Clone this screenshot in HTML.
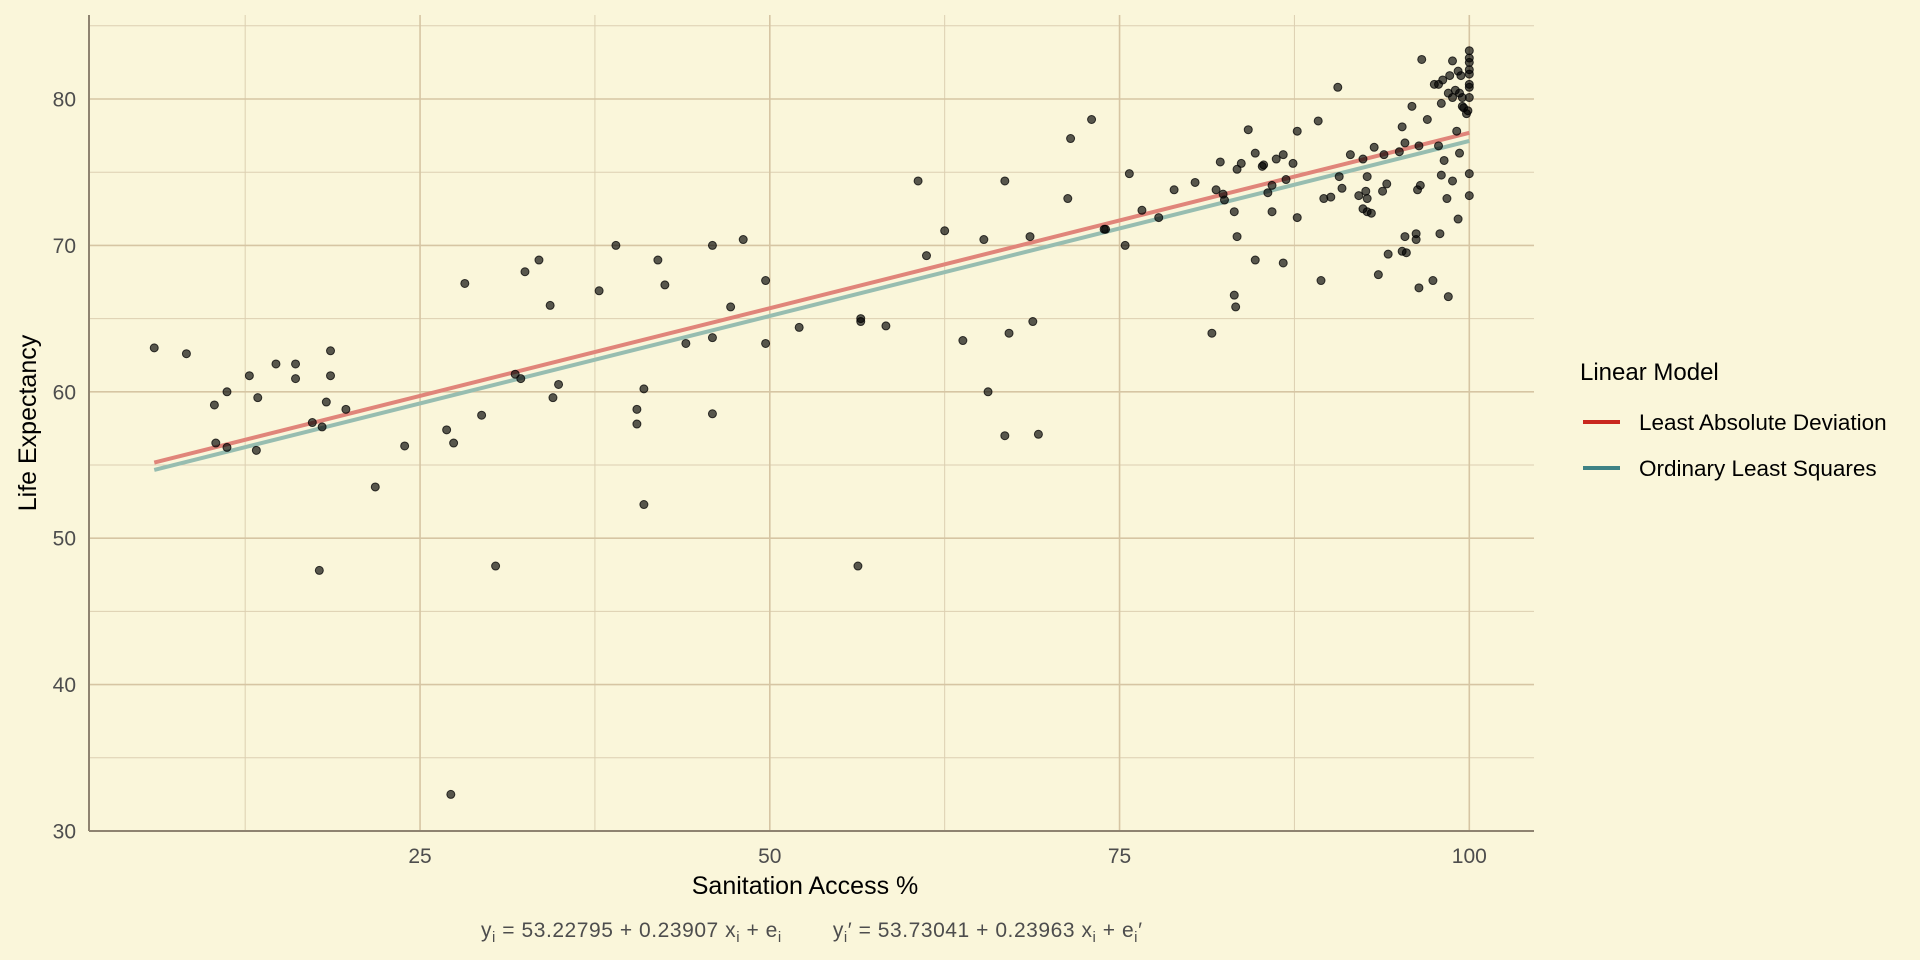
<!DOCTYPE html>
<html><head><meta charset="utf-8">
<style>
html,body{margin:0;padding:0;background:#faf6da;}
svg{display:block;font-family:"Liberation Sans",sans-serif;}
</style></head>
<body>
<svg id="chart" width="1920" height="960" viewBox="0 0 1920 960" xmlns="http://www.w3.org/2000/svg">
<rect x="0" y="0" width="1920" height="960" fill="#faf6da"/>
<g id="grid"></g>
<g id="lines"></g>
<g id="points"></g>
<g id="axes"></g>
<text transform="translate(36,423) rotate(-90)" text-anchor="middle" font-size="25" fill="#000">Life Expectancy</text>
<text x="805" y="894" text-anchor="middle" font-size="25" fill="#000">Sanitation Access %</text>
<text x="481" y="937" font-size="21" fill="#4d4d4d" textLength="661" lengthAdjust="spacing">y<tspan font-size="15" dy="5">i</tspan><tspan dy="-5"> = 53.22795 + 0.23907 x</tspan><tspan font-size="15" dy="5">i</tspan><tspan dy="-5"> + e</tspan><tspan font-size="15" dy="5">i</tspan><tspan dy="-5" xml:space="preserve">        y</tspan><tspan font-size="15" dy="5">i</tspan><tspan dy="-5">′ = 53.73041 + 0.23963 x</tspan><tspan font-size="15" dy="5">i</tspan><tspan dy="-5"> + e</tspan><tspan font-size="15" dy="5">i</tspan><tspan dy="-5">′</tspan></text>
<g>
<text x="1580" y="380" font-size="24" fill="#000">Linear Model</text>
<line x1="1583" y1="422" x2="1620" y2="422" stroke="#c9281e" stroke-width="4"/>
<text x="1639" y="430" font-size="22.5" fill="#000">Least Absolute Deviation</text>
<line x1="1583" y1="468" x2="1620" y2="468" stroke="#3e8285" stroke-width="4"/>
<text x="1639" y="476" font-size="22.5" fill="#000">Ordinary Least Squares</text>
</g>
</svg>
<script>
const xTicks = [25, 50, 75, 100];
const xMinor = [12.5, 37.5, 62.5, 87.5];
const yTicks = [30, 40, 50, 60, 70, 80];
const yMinor = [35, 45, 55, 65, 75, 85];
const ladCoef = [53.73041, 0.23963];
const olsCoef = [53.22795, 0.23907];
const xs = [6.0,8.3,10.3,10.4,11.2,11.2,12.8,13.3,13.4,14.7,16.1,16.1,17.3,18.0,17.8,18.3,18.6,18.6,19.7,21.8,23.9,26.9,27.4,27.2,28.2,29.4,30.4,31.8,32.2,32.5,33.5,34.3,34.5,34.9,37.8,39.0,40.5,40.5,41.0,41.0,42.0,42.5,44.0,45.9,45.9,45.9,47.2,48.1,49.7,49.7,52.1,56.5,56.5,56.3,58.3,60.6,61.2,62.5,63.8,65.3,65.6,66.8,67.1,66.8,68.6,68.8,69.2,71.5,71.3,73.0,74.0,
73.9,75.4,75.7,76.6,77.8,78.9,80.4,81.6,81.9,82.2,82.4,82.5,83.2,83.2,83.3,83.4,83.4,83.7,84.2,84.7,84.7,85.2,85.3,85.6,85.9,85.9,86.2,86.7,86.7,86.9,87.4,87.7,87.7,89.2,89.4,89.6,90.1,90.6,90.7,90.9,91.5,92.1,92.4,92.4,92.6,92.7,92.7,92.7,93.0,93.2,93.5,93.8,93.9,94.1,94.2,95.0,95.2,95.2,95.4,95.4,95.5,95.9,96.2,96.2,96.3,96.4,96.4,96.5,96.6,97.0,97.4,97.5,97.8,97.8,97.9,98.0,98.0,98.1,98.2,98.4,98.5,98.5,98.8,98.8,98.8,98.6,99.0,99.1,99.2,99.2,99.3,99.3,99.4,99.5,99.6,99.5,99.8,99.9,100,100,100,100,100,100,100,100,100,100];
const ys = [63.0,62.6,59.1,56.5,60.0,56.2,61.1,56.0,59.6,61.9,61.9,60.9,57.9,57.6,47.8,59.3,62.8,61.1,58.8,53.5,56.3,57.4,56.5,32.5,67.4,58.4,48.1,61.2,60.9,68.2,69.0,65.9,59.6,60.5,66.9,70.0,58.8,57.8,52.3,60.2,69.0,67.3,63.3,70.0,63.7,58.5,65.8,70.4,67.6,63.3,64.4,65.0,64.8,48.1,64.5,74.4,69.3,71.0,63.5,70.4,60.0,74.4,64.0,57.0,70.6,64.8,57.1,77.3,73.2,78.6,71.1,
71.1,70.0,74.9,72.4,71.9,73.8,74.3,64.0,73.8,75.7,73.5,73.1,72.3,66.6,65.8,75.2,70.6,75.6,77.9,76.3,69.0,75.4,75.5,73.6,74.1,72.3,75.9,76.2,68.8,74.5,75.6,71.9,77.8,78.5,67.6,73.2,73.3,80.8,74.7,73.9,76.2,73.4,75.9,72.5,73.7,73.2,74.7,72.3,72.2,76.7,68.0,73.7,76.2,74.2,69.4,76.4,78.1,69.6,77.0,70.6,69.5,79.5,70.8,70.4,73.8,76.8,67.1,74.1,82.7,78.6,67.6,81.0,81.0,76.8,70.8,74.8,79.7,81.3,75.8,73.2,66.5,80.4,82.6,80.1,74.4,81.6,80.6,77.8,81.9,71.8,76.3,80.4,81.6,79.5,79.4,80.1,79.0,79.2,83.3,82.8,82.5,82.0,81.7,81.0,80.8,80.1,74.9,73.4];

const X0 = 89, X1 = 1534, Y0 = 15, Y1 = 831;
function sx(v){ return 70.3 + v * 13.99; }
function sy(v){ return 831 - (v - 30) * 14.64; }
const NS = "http://www.w3.org/2000/svg";
function mk(tag, attrs, parent){ const e = document.createElementNS(NS, tag); for (const k in attrs) e.setAttribute(k, attrs[k]); parent.appendChild(e); return e; }
const grid = document.getElementById('grid');
xMinor.forEach(v => { const l = mk('line', {x1:sx(v), x2:sx(v), y1:Y0, y2:Y1, stroke:'#dccfb1', 'stroke-width':1}, grid);
  
   });
yMinor.forEach(v => { const l = mk('line', {x1:X0, x2:X1, y1:sy(v), y2:sy(v), stroke:'#dccfb1', 'stroke-width':1}, grid);
  
   });
xTicks.forEach(v => { const l = mk('line', {x1:sx(v), x2:sx(v), y1:Y0, y2:Y1, stroke:'#d6c5a3', 'stroke-width':1.6}, grid);
  
   });
yTicks.forEach(v => { const l = mk('line', {x1:X0, x2:X1, y1:sy(v), y2:sy(v), stroke:'#d6c5a3', 'stroke-width':1.6}, grid);
  
   });

const lines = document.getElementById('lines');
const xmin = Math.min(...xs), xmax = Math.max(...xs);
const lad = mk('line', {x1:sx(xmin), y1:sy(ladCoef[0]+ladCoef[1]*xmin), x2:sx(xmax), y2:sy(ladCoef[0]+ladCoef[1]*xmax), stroke:'#e0857a', 'stroke-width':4}, lines);


const ols = mk('line', {x1:sx(xmin), y1:sy(olsCoef[0]+olsCoef[1]*xmin), x2:sx(xmax), y2:sy(olsCoef[0]+olsCoef[1]*xmax), stroke:'#97bdb0', 'stroke-width':4}, lines);



const pts = document.getElementById('points');
xs.forEach((x, i) => { const c = mk('circle', {cx:sx(x), cy:sy(ys[i]), r:4, fill:'#000', 'fill-opacity':0.65, stroke:'#000', 'stroke-opacity':0.75, 'stroke-width':1}, pts);
  
   });

const axes = document.getElementById('axes');
const ax1 = mk('line', {x1:X0, x2:X0, y1:Y0, y2:Y1, stroke:'#8e8370', 'stroke-width':2}, axes);


const ax2 = mk('line', {x1:X0, x2:X1, y1:Y1, y2:Y1, stroke:'#8e8370', 'stroke-width':2}, axes);


xTicks.forEach(v => { const t = mk('text', {x:sx(v), y:863, 'text-anchor':'middle', 'font-size':21, fill:'#4d4d4d'}, axes); t.textContent = v;
  
   });
yTicks.forEach(v => { const t = mk('text', {x:76, y:sy(v)+7.5, 'text-anchor':'end', 'font-size':21, fill:'#4d4d4d'}, axes); t.textContent = v;
  
   });
</script>
</body></html>
